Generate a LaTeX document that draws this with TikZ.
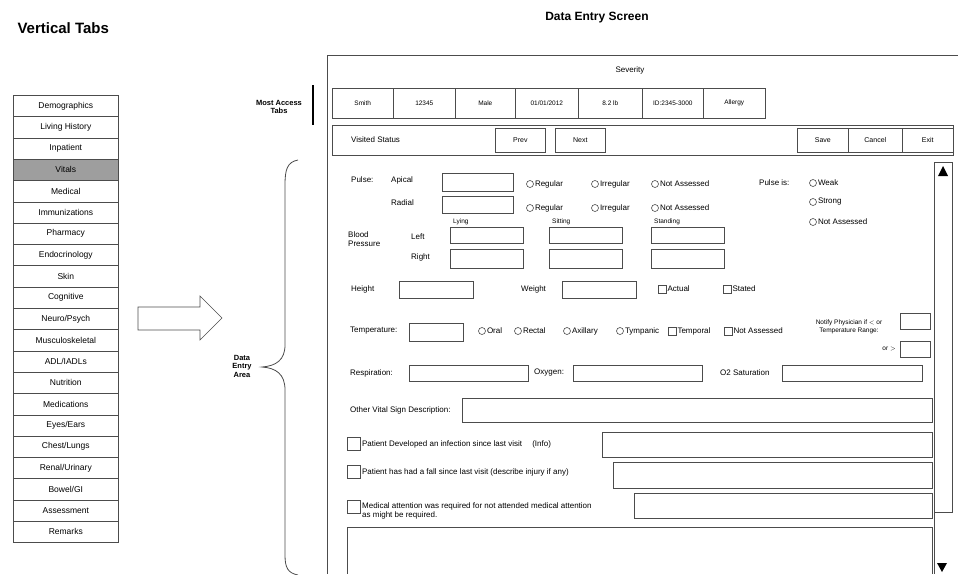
\documentclass[tikz,border=0pt]{standalone}
\usepackage{fontspec}
\setmainfont{Liberation Sans}
\usetikzlibrary{calc}
\tikzset{
    box/.style={draw=black!70,line width=0.6pt},
    vtab/.style={box,anchor=north west,minimum width=105pt,minimum height=21.3pt,inner sep=0pt,font=\fontsize{8.5}{10}\selectfont},
    hdcell/.style={box,anchor=north west,minimum height=30pt,inner sep=0pt,font=\fontsize{6.5}{8}\selectfont},
    btn/.style={box,anchor=north west,minimum height=24pt,inner sep=0pt,font=\fontsize{7}{8}\selectfont},
    lbl/.style={font=\fontsize{8}{9.5}\selectfont,inner sep=1pt},
    small/.style={font=\fontsize{6.5}{7.5}\selectfont,inner sep=1pt},
    radio/.style={circle,box,minimum size=7pt,inner sep=0pt},
    check/.style={rectangle,box,minimum size=8pt,inner sep=0pt},
    heading/.style={font=\bfseries},
    side/.style={font=\fontsize{7.5}{8.5}\selectfont\bfseries,align=center,inner sep=0pt}
}
\begin{document}
\begin{tikzpicture}[x=1pt,y=-1pt]
\useasboundingbox (0,0) rectangle (958,574);
\node[heading,anchor=west,font=\fontsize{15}{17}\selectfont\bfseries] (vt) at (14,28) {Vertical Tabs};
\node[heading,font=\fontsize{12}{14}\selectfont\bfseries] (de) at (597,18) {Data Entry Screen};

% vertical tab list
\foreach \name [count=\i] in {Demographics,Living History,Inpatient,Vitals,Medical,Immunizations,Pharmacy,Endocrinology,Skin,Cognitive,Neuro/Psych,Musculoskeletal,ADL/IADLs,Nutrition,Medications,Eyes/Ears,Chest/Lungs,Renal/Urinary,Bowel/GI,Assessment,Remarks}
    \node[vtab] (t\i) at (13,{95+21.3*(\i-1)}) {\name};
\node[vtab,fill=black!38] at (t4.north west) {Vitals};

\draw[box] (138,307) -- (200,307) -- (200,296) -- (222,318) -- (200,340) -- (200,330) -- (138,330) -- cycle;
\node[side] (area) at (242,366) {Data\\Entry\\Area};
\draw[box,line width=0.8pt] (298,160) .. controls (287,162) and (285,170) .. (285,185) -- (285,345)
    .. controls (285,360) and (276,366) .. (262,367) .. controls (276,368) and (285,374) .. (285,390)
    -- (285,555) .. controls (285,568) and (288,573) .. (298,575);

% screen frame and header rows
\draw[box] (958,55) -- (327,55) -- (327,574);
\node[lbl] (sev) at (630,70) {Severity};
\node[side] (mat) at (279,107) {Most Access\\Tabs};
\draw[line width=2pt] (313,85) -- (313,125);
\foreach \x/\w/\t in {332/61/Smith,393/62/12345,455/60/Male,515/63/{01/01/2012},578/64/8.2 lb,642/61/ID:2345-3000,703/62/Allergy}
    \node[hdcell,minimum width=\w pt] at (\x,88) {\t};
\draw[box] (332,125) rectangle (953,155);
\node[lbl,anchor=west] (vs) at (350,140) {Visited Status};
\foreach \x/\w/\t in {495/50/Prev,555/50/Next,797/51/Save,848/54/Cancel,902/51/Exit}
    \node[btn,minimum width=\w pt] at (\x,128) {\t};

% scroll bar
\draw[box] (934,162) rectangle (952,512);
\draw[box] (934,512) -- (934,574);
\fill (943,166) -- (948,176) -- (938,176) -- cycle;
\fill (942,572) -- (947,563) -- (937,563) -- cycle;

% pulse
\node[lbl,anchor=west] at (350,180) {Pulse:};
\node[lbl,anchor=west] at (390,180) {Apical};
\node[lbl,anchor=west] at (390,203) {Radial};
\draw[box] (442,173) rectangle (513,191);
\draw[box] (442,196) rectangle (513,213);
\foreach \y in {184,208}
    \foreach \x/\t in {530/Regular,595/Irregular,655/Not Assessed}
        \node[radio,label={[lbl]right:\t}] at (\x,\y) {};
\node[lbl,anchor=west] at (758,183) {Pulse is:};
\foreach \y/\t in {183/Weak,202/Strong,222/Not Assessed}
    \node[radio,label={[lbl]right:\t}] at (813,\y) {};

% blood pressure
\node[lbl,anchor=west,align=left] at (347,239) {Blood\\Pressure};
\node[lbl,anchor=west] at (410,237) {Left};
\node[lbl,anchor=west] at (410,257) {Right};
\foreach \x/\t in {450/Lying,549/Sitting,651/Standing}
{
    \node[small,anchor=west] at (\x+2,222) {\t};
    \draw[box] (\x,227) rectangle ++(73,16);
    \draw[box] (\x,249) rectangle ++(73,19);
}

% height and weight
\node[lbl,anchor=west] at (350,289) {Height};
\draw[box] (399,281) rectangle (473,298);
\node[lbl,anchor=west] at (520,289) {Weight};
\draw[box] (562,281) rectangle (636,298);
\foreach \x/\t in {662/Actual,727/Stated}
    \node[check,label={[lbl]right:\t}] at (\x,289) {};

% temperature
\node[lbl,anchor=west] at (349,331) {Temperature:};
\draw[box] (409,323) rectangle (463,341);
\foreach \x/\t in {482/Oral,518/Rectal,567/Axillary,620/Tympanic}
    \node[radio,label={[lbl]right:\t}] at (\x,331) {};
\foreach \x/\t in {672/Temporal,728/Not Assessed}
    \node[check,label={[lbl]right:\t}] at (\x,331) {};
\node[small,align=center] at (849,327) {Notify Physician if $<$ or\\Temperature Range:};
\draw[box] (900,313) rectangle (930,329);
\node[small,anchor=east] at (897,349) {or $>$};
\draw[box] (900,341) rectangle (930,357);

% respiration
\node[lbl,anchor=west] at (349,373) {Respiration:};
\draw[box] (409,365) rectangle (528,381);
\node[lbl,anchor=west] at (533,373) {Oxygen:};
\draw[box] (573,365) rectangle (702,381);
\node[lbl,anchor=west] at (719,373) {O2 Saturation};
\draw[box] (782,365) rectangle (922,381);

% descriptions
\node[lbl,anchor=west] at (349,410) {Other Vital Sign Description:};
\draw[box] (462,398) rectangle (932,422);
\node[check,minimum size=13pt,label={[lbl]right:Patient Developed an infection since last visit \quad (Info)}] at (354,444) {};
\draw[box] (602,432) rectangle (932,457);
\node[check,minimum size=13pt,label={[lbl]right:Patient has had a fall since last visit (describe injury if any)}] at (354,472) {};
\draw[box] (613,462) rectangle (932,488);
\node[check,minimum size=13pt] (ma) at (354,507) {};
\node[lbl,anchor=west,align=left] at (361,511) {Medical attention was required for not attended medical attention\\as might be required.};
\draw[box] (634,493) rectangle (932,518);
\draw[box] (932,527) -- (347,527) -- (347,574);
\draw[box] (932,527) -- (932,574);
\end{tikzpicture}
\end{document}
